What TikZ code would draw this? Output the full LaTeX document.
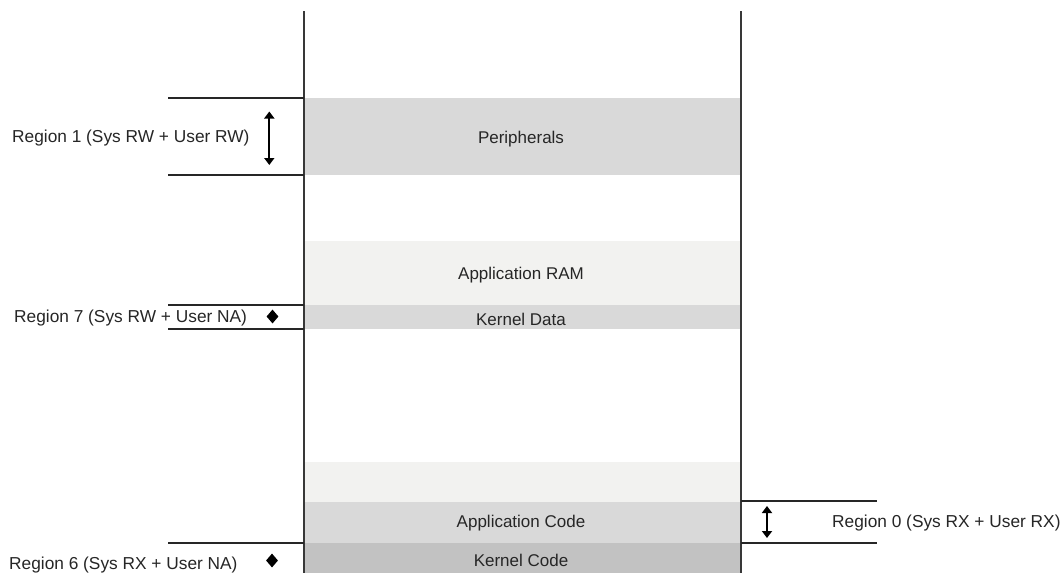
\documentclass[tikz,border=0pt]{standalone}
\usepackage{fontspec}
\setmainfont{Liberation Sans}
\usetikzlibrary{arrows.meta,shapes.geometric}
\definecolor{bandmid}{HTML}{D9D9D9}
\definecolor{bandlight}{HTML}{F2F2F0}
\definecolor{banddark}{HTML}{C2C2C2}
\definecolor{rail}{HTML}{383838}
\tikzset{
  band/.style={rectangle, inner sep=0pt, draw=none, minimum width=436pt},
  bandtext/.style={inner sep=0pt, text height=12.2pt, text depth=0pt,
    font=\fontsize{17}{20}\selectfont, text=black!85},
  lbl/.style={anchor=west, inner sep=0pt, text height=12.4pt, text depth=0pt,
    font=\fontsize{17.3}{20}\selectfont, text=black!85},
  bound/.style={line width=1.6pt, black!85},
  railline/.style={line width=2pt, rail},
  spanarrow/.style={line width=1.8pt, {Triangle[length=7pt,width=10pt]}-{Triangle[length=7pt,width=10pt]}},
  dmark/.style={diamond, fill=black, inner sep=0pt, minimum width=12pt, minimum height=14pt},
}
\begin{document}
\begin{tikzpicture}[x=1pt,y=-1pt]
\useasboundingbox[fill=white] (0,0) rectangle (1062,573);

% memory map bands
\node[band, fill=bandmid, minimum height=77pt] (periph) at (522,136.5) {};
\node[band, fill=bandlight, minimum height=64pt] (appram) at (522,273) {};
\node[band, fill=bandmid, minimum height=24pt] (kdata) at (522,317) {};
\node[band, fill=bandlight, minimum height=40pt] (spare) at (522,482) {};
\node[band, fill=bandmid, minimum height=41pt] (appcode) at (522,522) {};
\node[band, fill=banddark, minimum height=30.5pt] (kcode) at (522,557.75) {};

% band captions
\node[bandtext] (periph-t) at (521,137) {Peripherals};
\node[bandtext] (appram-t) at (521,273) {Application RAM};
\node[bandtext] (kdata-t) at (521,319) {Kernel Data};
\node[bandtext] (appcode-t) at (521,521) {Application Code};
\node[bandtext] (kcode-t) at (521,560.5) {Kernel Code};

% address space rails
\coordinate (ltop) at (303.5,11);
\coordinate (lbot) at (303.5,573);
\coordinate (rtop) at (741,11);
\coordinate (rbot) at (741,573);
\draw[railline] (ltop) -- (lbot);
\draw[railline] (rtop) -- (rbot);

% Region 1
\coordinate (r1a) at (168,98);
\coordinate (r1b) at (168,175);
\draw[bound] (r1a) -- (r1a -| ltop);
\draw[bound] (r1b) -- (r1b -| ltop);
\coordinate (r1u) at (269.3,111.5);
\coordinate (r1d) at (269.3,165);
\draw[spanarrow] (r1u) -- (r1d);
\node[lbl] (r1) at (12,136.5) {Region 1 (Sys RW + User RW)};

% Region 7
\coordinate (r7a) at (168,305);
\coordinate (r7b) at (168,329);
\draw[bound] (r7a) -- (r7a -| ltop);
\draw[bound] (r7b) -- (r7b -| ltop);
\node[lbl] (r7) at (14,316) {Region 7 (Sys RW + User NA)};
\node[dmark] (m7) at (272.5,316.5) {};

% Region 6
\coordinate (r6a) at (168,543);
\draw[bound] (r6a) -- (r6a -| ltop);
\node[lbl] (r6) at (9,563) {Region 6 (Sys RX + User NA)};
\node[dmark] (m6) at (272,560.5) {};

% Region 0
\coordinate (r0a) at (877,501);
\coordinate (r0b) at (877,543);
\draw[bound] (r0a -| rtop) -- (r0a);
\draw[bound] (r0b -| rtop) -- (r0b);
\coordinate (r0u) at (767,506);
\coordinate (r0d) at (767,538);
\draw[spanarrow] (r0u) -- (r0d);
\node[lbl] (r0) at (832,521.5) {Region 0 (Sys RX + User RX)};
\end{tikzpicture}
\end{document}
